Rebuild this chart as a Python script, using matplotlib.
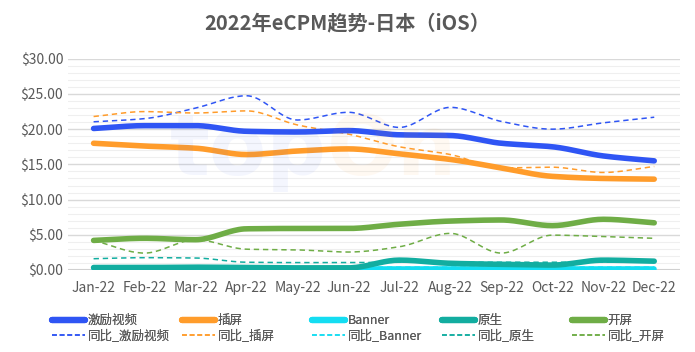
import numpy as np
import matplotlib.pyplot as plt
from matplotlib.lines import Line2D
from matplotlib.ticker import MultipleLocator, FuncFormatter

plt.rcParams['font.family'] = ['Noto Sans CJK SC', 'DejaVu Sans']

months = ["Jan-22", "Feb-22", "Mar-22", "Apr-22", "May-22", "Jun-22",
          "Jul-22", "Aug-22", "Sep-22", "Oct-22", "Nov-22", "Dec-22"]

# eCPM 数值
rewarded = [20.1, 20.5, 20.5, 19.7, 19.6, 19.8, 19.2, 19.1, 18.0, 17.5, 16.2, 15.5]
interstitial = [18.0, 17.6, 17.3, 16.4, 16.9, 17.2, 16.5, 15.7, 14.5, 13.3, 13.0, 12.9]
banner = [0.2, 0.2, 0.2, 0.2, 0.2, 0.2, 0.2, 0.2, 0.2, 0.2, 0.2, 0.2]
native = [0.35, 0.35, 0.4, 0.35, 0.3, 0.3, 1.4, 0.95, 0.8, 0.7, 1.4, 1.25]
splash = [4.2, 4.5, 4.3, 5.85, 5.9, 5.9, 6.5, 6.95, 7.1, 6.3, 7.2, 6.7]

# 同比
rewarded_yoy = [21.05, 21.5, 23.0, 24.75, 21.3, 22.4, 20.25, 23.1, 21.1, 20.0, 20.9, 21.7]
interstitial_yoy = [21.8, 22.5, 22.3, 22.6, 20.6, 19.3, 17.5, 16.4, 14.5, 14.6, 13.85, 14.7]
banner_yoy = [0.55, 0.6, 0.55, 0.45, 0.4, 0.4, 0.4, 0.4, 0.4, 0.4, 0.4, 0.4]
native_yoy = [1.6, 1.75, 1.7, 1.1, 1.05, 1.05, 1.1, 1.1, 1.1, 1.1, 1.1, 1.1]
splash_yoy = [4.2, 2.4, 4.3, 2.95, 2.85, 2.55, 3.3, 5.2, 2.4, 4.95, 4.75, 4.5]

names = ["激励视频", "插屏", "Banner", "原生", "开屏"]
colors = ["#2F55F4", "#FF9C2B", "#14DDF2", "#12ADA0", "#6FAD46"]
series = [rewarded, interstitial, banner, native, splash]
series_yoy = [rewarded_yoy, interstitial_yoy, banner_yoy, native_yoy, splash_yoy]


def smooth_line(y, n=20):
    # 平滑曲线（单调三次插值，只用于画线）
    y = np.asarray(y, float)
    x = np.arange(len(y))
    d = np.diff(y)
    m = np.zeros_like(y)
    for i in range(1, len(y) - 1):
        if d[i - 1] * d[i] > 0:
            m[i] = 2 / (1 / d[i - 1] + 1 / d[i])
    m[0], m[-1] = d[0], d[-1]
    xs, ys = [], []
    for i in range(len(y) - 1):
        t = np.linspace(0, 1, n, endpoint=False)
        h00 = 2 * t**3 - 3 * t**2 + 1
        h10 = t**3 - 2 * t**2 + t
        h01 = -2 * t**3 + 3 * t**2
        h11 = t**3 - t**2
        xs.append(x[i] + t)
        ys.append(h00 * y[i] + h10 * m[i] + h01 * y[i + 1] + h11 * m[i + 1])
    xs.append([x[-1]])
    ys.append([y[-1]])
    return np.concatenate(xs), np.concatenate(ys)


fig = plt.figure(figsize=(6.95, 3.52), dpi=100)
ax = fig.add_axes([0.098, 0.233, 0.88, 0.6])

for name, c, s, sy in zip(names, colors, series, series_yoy):
    xs, ys = smooth_line(sy)
    ax.plot(xs, ys, color=c, lw=1.1, ls=(0, (3.5, 2.5)), zorder=3)
    xs, ys = smooth_line(s)
    ax.plot(xs, ys, color=c, lw=4, solid_capstyle='round', zorder=4)

ax.set_xlim(-0.5, 11.5)
ax.set_ylim(0, 30)
ax.set_xticks(range(len(months)))
ax.set_xticklabels(months)
ax.yaxis.set_major_locator(MultipleLocator(5))
ax.yaxis.set_minor_locator(MultipleLocator(1))
ax.yaxis.set_major_formatter(FuncFormatter(lambda v, p: f"${v:.2f}"))
ax.grid(which='major', axis='y', color='#d9d9d9', lw=1)
ax.grid(which='minor', axis='y', color='#efefef', lw=0.8)
ax.set_axisbelow(True)
for sp in ax.spines.values():
    sp.set_visible(False)
ax.axhline(0, color='#d0d0d0', lw=1.5, zorder=2)
ax.tick_params(which='both', length=0, colors='#595959', labelsize=10)
ax.tick_params(axis='x', pad=8)

# 水印
fig.text(0.47, 0.57, "top", fontsize=60, color='#4a6cf0', alpha=0.06,
         ha='right', va='center', fontweight='bold', family='DejaVu Sans')
fig.text(0.47, 0.57, "On", fontsize=60, color='#ff9c2b', alpha=0.06,
         ha='left', va='center', fontweight='bold', family='DejaVu Sans')

fig.suptitle("2022年eCPM趋势-日本（iOS）", fontsize=14.5, fontweight='bold',
             color='#595959', y=0.965)

# 图例：每个系列一列
col_x = [52, 182, 312, 442, 572]
for x0, name, c in zip(col_x, names, colors):
    h1 = Line2D([], [], color=c, lw=4.5, solid_capstyle='round')
    h2 = Line2D([], [], color=c, lw=1.1, ls=(0, (3.2, 1.8)))
    leg = fig.legend([h1, h2], [name, "同比_" + name], loc='upper left',
                     bbox_to_anchor=(x0 / 695, 1 - 314 / 352),
                     frameon=False, fontsize=9, handlelength=2.6,
                     handletextpad=0.25, labelspacing=0.22,
                     borderpad=0, borderaxespad=0)
    for t in leg.get_texts():
        t.set_color('#595959')
    fig.add_artist(leg)

fig.savefig("out.png", dpi=100)
